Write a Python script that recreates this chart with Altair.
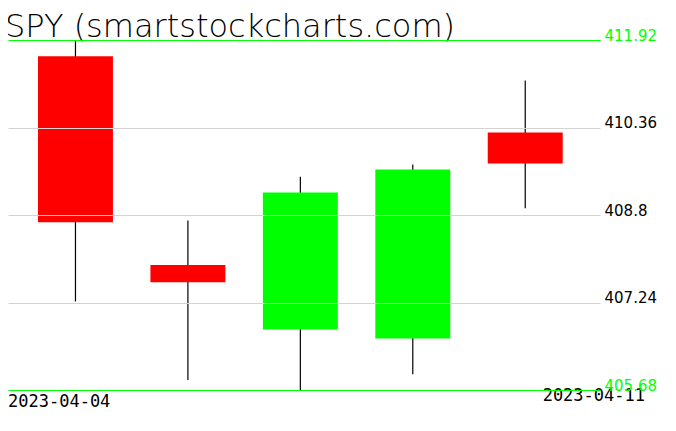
import altair as alt
import pandas as pd

dates = ["2023-04-04", "2023-04-05", "2023-04-06", "2023-04-10", "2023-04-11"]
opens = [411.63, 407.91, 406.76, 406.60, 410.27]
highs = [411.92, 408.70, 409.48, 409.70, 411.20]
lows = [407.26, 405.86, 405.68, 405.96, 408.92]
closes = [408.67, 407.60, 409.20, 409.61, 409.72]
levels = [405.68, 407.24, 408.8, 410.36, 411.92]
title_text = "SPY (smartstockcharts.com)"

df = pd.DataFrame({
    "i": list(range(len(dates))),
    "date": dates,
    "open": opens,
    "high": highs,
    "low": lows,
    "close": closes,
})

lo, hi = min(levels), max(levels)
xscale = alt.Scale(domain=[-0.6, 4.665], nice=False, zero=False)
yscale = alt.Scale(domain=[lo, hi], nice=False, zero=False)

edge_test = f"datum.value == {lo} || datum.value == {hi}"

yaxis = alt.Axis(
    orient="right",
    values=levels,
    labelExpr="format(datum.value, '~f')",
    ticks=False,
    domain=False,
    grid=True,
    zindex=1,
    gridColor={"condition": {"test": edge_test, "value": "#00ff00"}, "value": "#d3d3d3"},
    gridWidth=1,
    labelColor={"condition": {"test": edge_test, "value": "#00ff00"}, "value": "#000000"},
    labelFont="DejaVu Sans",
    labelFontSize=15,
    labelBaseline="alphabetic",
    labelAlign="left",
    labelPadding=4,
    labelOverlap=False,
    labelFlush=False,
    title=None,
)

base = alt.Chart(df)

wicks = base.mark_rule(color="#000000", strokeWidth=1.2).encode(
    x=alt.X("i:Q", scale=xscale, axis=None),
    y=alt.Y("low:Q", scale=yscale, axis=yaxis),
    y2="high:Q",
)

bodies = base.transform_calculate(
    x0="datum.i - 1/3", x1="datum.i + 1/3"
).mark_rect().encode(
    x=alt.X("x0:Q", scale=xscale, axis=None),
    x2="x1:Q",
    y=alt.Y("open:Q", scale=yscale),
    y2="close:Q",
    color=alt.condition("datum.close >= datum.open", alt.value("#00ff00"), alt.value("#ff0000")),
)

title = alt.Chart(pd.DataFrame({"t": [title_text]})).mark_text(
    font="DejaVu Sans", fontWeight=200, fontSize=32, align="left", baseline="alphabetic", color="#000000"
).encode(text="t:N", x=alt.value(-3), y=alt.value(-3))

first_lbl = alt.Chart(pd.DataFrame({"t": [dates[0]]})).mark_text(
    font="DejaVu Sans Mono", fontSize=17, align="left", baseline="alphabetic", color="#000000"
).encode(text="t:N", x=alt.value(0), y=alt.value(367))

last_lbl = alt.Chart(pd.DataFrame({"t": [dates[-1]]})).mark_text(
    font="DejaVu Sans Mono", fontSize=17, align="right", baseline="alphabetic", color="#000000"
).encode(text="t:N", x=alt.value(637), y=alt.value(361))

chart = alt.layer(wicks, bodies, title, first_lbl, last_lbl).properties(
    width=592,
    height=350,
    autosize=alt.AutoSizeParams(type="none"),
    padding={"left": 0, "top": 32, "right": 68, "bottom": 33},
    background="#ffffff",
).configure_view(stroke=None)

chart.save("out.html", embed_options={"renderer": "svg", "actions": False})
